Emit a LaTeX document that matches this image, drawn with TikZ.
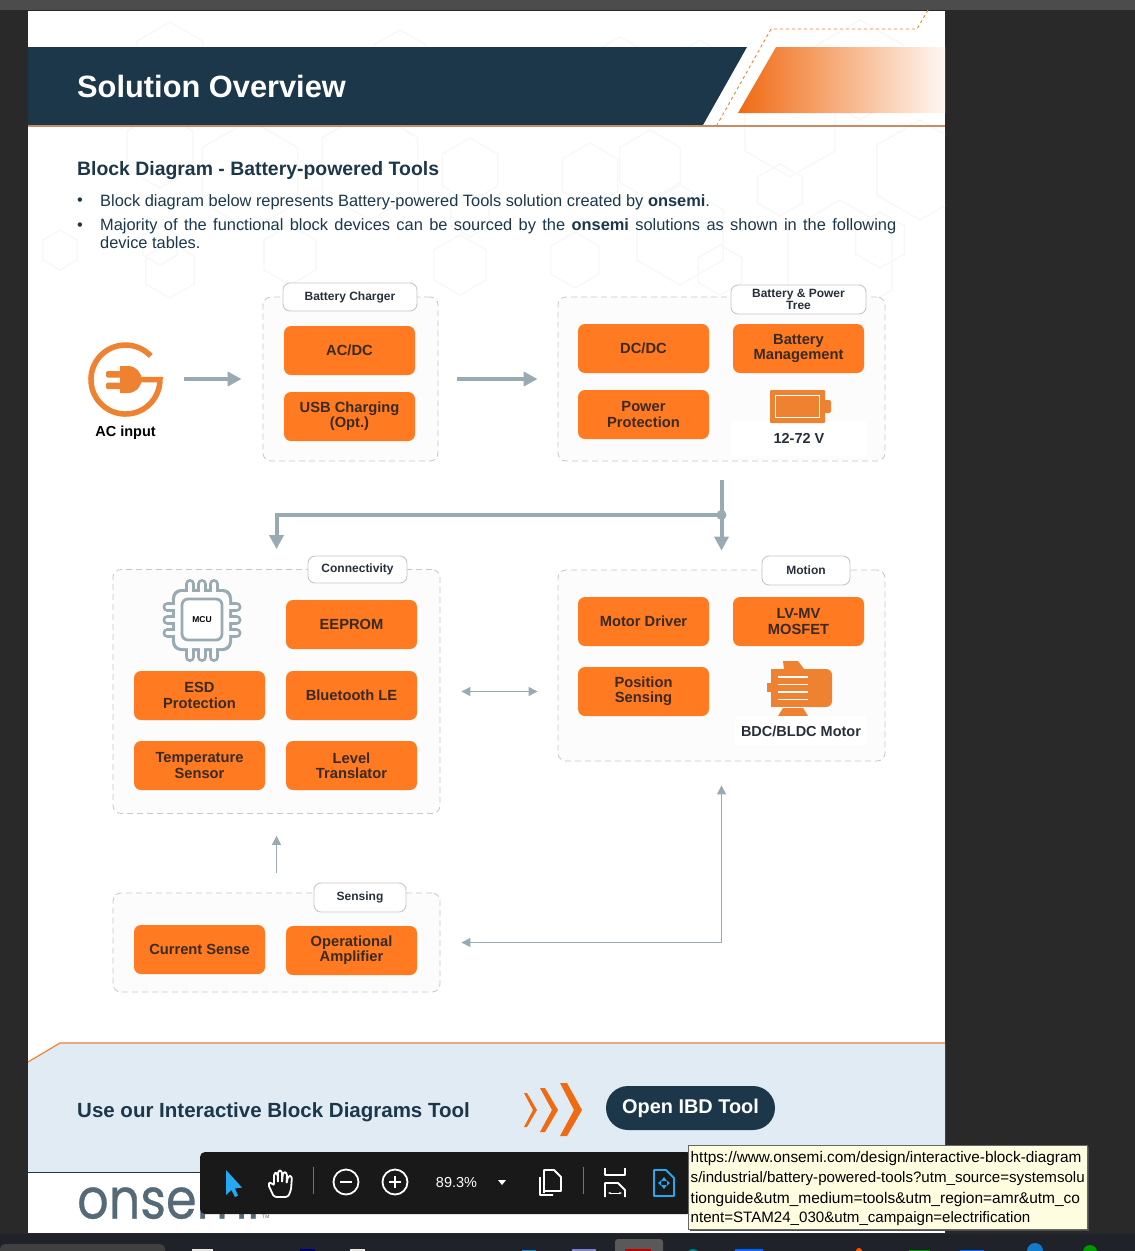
\documentclass[tikz,border=0pt]{standalone}
\usepackage{fontspec}
\setmainfont{Liberation Sans}
\newfontfamily\logofont[FakeBold=0.5,FakeStretch=0.88]{Poppins}
\usetikzlibrary{arrows.meta,calc}
\definecolor{navy}{HTML}{1C374A}
\definecolor{orng}{HTML}{FF7A21}
\definecolor{iconor}{HTML}{EE8231}
\definecolor{blktxt}{HTML}{3A2A1F}
\definecolor{slate}{HTML}{9AAAB3}
\definecolor{bandbg}{HTML}{E0EBF4}
\definecolor{hexc}{HTML}{F6F7F7}
\definecolor{tagtxt}{HTML}{27303A}
\definecolor{rulec}{HTML}{CB8A62}
\definecolor{chev}{HTML}{F06A12}
\definecolor{tbblue}{HTML}{25A9F0}
\definecolor{barc}{HTML}{20222A}
\newcommand{\fs}[2]{\fontsize{#1}{#2}\selectfont}
\newcommand{\up}[1]{\raisebox{-1.2pt}{#1}}
\tikzset{
 blockbox/.style={draw=none,fill=orng,rounded corners=7pt,minimum width=131pt,minimum height=49pt,inner sep=0pt,align=center,text=blktxt,font=\fs{14.7}{15.2}\bfseries},
 groupbox/.style={draw=black!22,dashed,dash pattern=on 6pt off 4pt,fill=black!1,rounded corners=8pt,inner sep=0pt,line width=.8pt},
 tagbox/.style={draw=black!22,fill=white,rounded corners=7pt,inner sep=0pt,align=center,text=tagtxt,line width=.9pt,font=\fs{12}{12}\bfseries},
 thickflow/.style={draw=slate,line width=4pt,-{Triangle[length=14pt,width=14pt]}},
 thinflow/.style={draw=slate,line width=1pt},
 hex/.style={draw=hexc,line width=1.2pt},
 tbicon/.style={draw=white,line width=1.8pt,line join=round},
 tipline/.style={anchor=west,inner sep=0pt,text=black},
 head/.style={anchor=west,inner sep=0pt,text=navy,font=\bfseries},
 bodytxt/.style={anchor=west,inner sep=0pt,text=navy,font=\fs{16.4}{18}},
}
\begin{document}
\begin{tikzpicture}[x=1pt,y=-1pt]
\useasboundingbox (0,0) rectangle (1135,1251);
% window
\fill[black!84] (0,0) rectangle (1135,1251);
\fill[black!70] (0,0) rectangle (1135,10);
\fill[white] (28,11) rectangle (945,1233);
% faint hexagon watermark
\begin{scope}
\clip (28,11) rectangle (945,1233);
\foreach \x/\y/\r in {170/60/38,400/60/30,620/65/28,700/70/30,860/70/50,160/150/38,250/175/55,370/165/55,590/175/32,470/170/32,650/165/35,790/125/52,920/170/50,840/260/60,680/235/50,170/270/28,290/255/30,460/265/30,575/260/28,720/270/25,160/245/20,60/250/20,880/240/28,470/215/22,780/190/26}{
 \draw[hex,shift={(\x,\y)}] (90:\r pt)--(30:\r pt)--(-30:\r pt)--(-90:\r pt)--(-150:\r pt)--(150:\r pt)--cycle;}
\end{scope}
% header
\fill[navy] (28,47)--(747,47)--(703,125)--(28,125)--cycle;
\shade[left color=chev,middle color=chev!60!white,right color=chev!5!white,shading angle=90] (776,47)--(945,47)--(945,113)--(738,113)--cycle;
\fill[rulec] (28,125) rectangle (945,127);
\draw[iconor,dashed,dash pattern=on 3pt off 3pt,line width=.9pt] (928,10)--(917,29)--(771,29)--(717,125);
\node[head,text=white,font=\fs{30.8}{31}\bfseries] (title) at (77,86.5) {Solution Overview};
\node[head,font=\fs{19.4}{20}\bfseries] (subtitle) at (77,171) {Block Diagram - Battery-powered Tools};
\node[bodytxt] (b1dot) at (77,202) {•};
\node[bodytxt] (b1) at (100,202) {Block diagram below represents Battery-powered Tools solution created by \textbf{onsemi}.};
\node[bodytxt] (b2dot) at (77,227) {•};
\node[bodytxt,anchor=north west,text width=796pt,align=justify] (b2) at (100,218.5) {Majority of the functional block devices can be sourced by the \textbf{onsemi} solutions as shown in the following\linebreak device tables.};
% groups
\node[groupbox,minimum width=175pt,minimum height=164pt] (charger) at (350.5,379) {};
\node[groupbox,minimum width=327pt,minimum height=164pt] (batt) at (721.5,379) {};
\node[groupbox,minimum width=327pt,minimum height=244pt] (conn) at (276.5,691.5) {};
\node[groupbox,minimum width=327pt,minimum height=191pt] (motion) at (721.5,665.5) {};
\node[groupbox,minimum width=327pt,minimum height=99pt] (sensing) at (276.5,942.5) {};
% tags
\node[tagbox,minimum width=134pt,minimum height=28pt] (tcharger) at (350,297) {\up{Battery Charger}};
\node[tagbox,minimum width=135pt,minimum height=29pt] (tbatt) at (798.5,299.5) {Battery \& Power\\Tree};
\node[tagbox,minimum width=99pt,minimum height=27pt] (tconn) at (357.5,569.5) {\up{Connectivity}};
\node[tagbox,minimum width=88pt,minimum height=29pt] (tmotion) at (806,570.5) {\up{Motion}};
\node[tagbox,minimum width=92pt,minimum height=29pt] (tsens) at (360,897.5) {\up{Sensing}};
% blocks
\node[blockbox] (acdc) at (349.5,350.5) {AC/DC};
\node[blockbox] (usb) at (349.5,416.5) {USB Charging\\(Opt.)};
\node[blockbox] (dcdc) at (643.5,348.5) {DC/DC};
\node[blockbox] (bm) at (798.5,348.5) {Battery\\Management};
\node[blockbox] (pp) at (643.5,414.5) {Power\\Protection};
\node[blockbox] (eeprom) at (351.5,624.5) {EEPROM};
\node[blockbox] (esd) at (199.5,695.5) {ESD\\Protection};
\node[blockbox] (ble) at (351.5,695.5) {Bluetooth LE};
\node[blockbox] (temp) at (199.5,765.5) {Temperature\\Sensor};
\node[blockbox] (level) at (351.5,765.5) {Level\\Translator};
\node[blockbox] (md) at (643.5,621.5) {Motor Driver};
\node[blockbox] (lv) at (798.5,621.5) {LV-MV\\MOSFET};
\node[blockbox] (pos) at (643.5,691.5) {Position\\Sensing};
\node[blockbox] (cs) at (199.5,949.5) {Current Sense};
\node[blockbox] (opamp) at (351.5,950.5) {Operational\\Amplifier};
% AC icon
\node[minimum size=75pt,inner sep=0pt] (acicon) at (126,379) {};
\draw[iconor,line width=5.5pt] (150.7,356) arc[start angle=43,end angle=360,radius=34.5pt] -- (141,379.5);
\fill[iconor] (120,366) -- (128,366) arc[start angle=90,end angle=-90,radius=13.5pt] -- (120,393) -- cycle;
\fill[iconor,rounded corners=1.5pt] (106,371) rectangle (121,377.5);
\fill[iconor,rounded corners=1.5pt] (106,382.5) rectangle (121,389);
\node[inner sep=0pt,text=black,font=\fs{14.5}{15}\bfseries] (aclabel) at (125.5,433) {AC input};
% battery icon
\fill[white] (731,421) rectangle (866,456);
\fill[iconor,rounded corners=1pt] (770,390) rectangle (825,423);
\fill[iconor,rounded corners=2pt] (823,400) rectangle (831,413);
\draw[white,line width=1.8pt] (775.5,395.5) rectangle (819.5,417.5);
\node[inner sep=0pt,text=tagtxt,font=\fs{14.5}{15}\bfseries] (vlabel) at (799,438) {12-72 V};
% MCU icon: outline of body and pins as one contour
\foreach \a in {190,202,214}{\draw[slate,line width=10pt,line cap=round] (\a,584)--(\a,657);}
\foreach \b in {607,620,633}{\draw[slate,line width=10pt,line cap=round] (167.5,\b)--(236.5,\b);}
\fill[slate,rounded corners=9pt] (172,589) rectangle (232,651);
\foreach \a in {190,202,214}{\draw[black!1,line width=4.4pt,line cap=round] (\a,584)--(\a,657);}
\foreach \b in {607,620,633}{\draw[black!1,line width=4.4pt,line cap=round] (167.5,\b)--(236.5,\b);}
\fill[black!1,rounded corners=7pt] (175,592) rectangle (229,648);
\draw[slate,fill=white,line width=2.8pt,rounded corners=6pt] (182,599) rectangle (222,640);
\node[inner sep=0pt,text=black,font=\fs{8.5}{9}\bfseries] (mcu) at (202,620) {MCU};
% motor icon
\fill[iconor] (771,669) rectangle (810,707);
\fill[iconor,rounded corners=6pt] (800,669) rectangle (832,707);
\fill[iconor] (767,683) rectangle (772,692);
\fill[iconor] (783,661)--(798,661)--(804,669)--(784,669)--cycle;
\fill[iconor] (778,716)--(783,708)--(803,708)--(808,716)--cycle;
\foreach \yy in {677,684.5,692,699.5}{\draw[white,line width=1.6pt] (778,\yy)--(808,\yy);}
\fill[white] (735,716) rectangle (866,745);
\node[inner sep=0pt,text=tagtxt,font=\fs{14.5}{15}\bfseries] (mlabel) at (801,731) {BDC/BLDC Motor};
% connectors
\coordinate (junc) at (721.5,515);
\draw[thickflow,shorten <=20pt,shorten >=21pt] (acicon.east) -- (charger.west);
\draw[thickflow,shorten <=19pt,shorten >=20pt] (charger.east) -- (batt.west);
\draw[thickflow,shorten <=19pt,shorten >=19pt] (batt.south) -- (motion.north);
\draw[thickflow,shorten >=20pt] (junc) -| (conn.north);
\fill[slate] (junc) circle[radius=5pt];
\draw[thinflow,{Triangle[length=9pt,width=9pt]}-{Triangle[length=9pt,width=9pt]},shorten <=21pt,shorten >=20pt] (conn.east) -- (conn.east -| motion.west);
\draw[thinflow,{Triangle[length=9pt,width=9pt]}-{Triangle[length=9pt,width=9pt]},shorten <=24pt,shorten >=21pt] (motion.south) |- (sensing.east);
\draw[thinflow,-{Triangle[length=9pt,width=9pt]},shorten <=20pt,shorten >=22pt] (sensing.north) -- (conn.south);
% footer band
\fill[bandbg] (28,1062)--(60,1043)--(945,1043)--(945,1172)--(28,1172)--cycle;
\draw[iconor,line width=1.2pt] (28,1062)--(60,1043)--(945,1043);
\draw[navy,line width=1pt] (28,1172.5)--(210,1172.5);
\node[head,font=\fs{20.5}{21}\bfseries] (cta) at (77,1112) {Use our Interactive Block Diagrams Tool};
\fill[chev] (524,1093)--(527,1093)--(537,1110)--(527,1127)--(524,1127)--(533,1110)--cycle;
\fill[chev] (540,1088)--(545,1088)--(558,1110)--(545,1132)--(540,1132)--(552,1110)--cycle;
\fill[chev] (560,1083)--(567,1083)--(582,1110)--(567,1136)--(560,1136)--(574,1110)--cycle;
\node[draw=none,fill=navy,rounded corners=22pt,minimum width=169pt,minimum height=44pt,inner sep=0pt,text=white,font=\fs{19.9}{20}\bfseries] (ibd) at (690.5,1108) {Open IBD Tool};
% logo
\node[anchor=base west,inner sep=0pt,text=navy!75!white,font=\fs{56}{56}\logofont] (logo) at (77,1218.5) {onsemi};
\node[anchor=base west,inner sep=0pt,text=navy!75!white,font=\fs{5}{5}] (logotm) at (262,1218) {TM};
% toolbar
\fill[black!90,rounded corners=5pt] (200,1152) rectangle (692,1214);
\fill[tbblue] (226,1170)--(226,1195)--(231.5,1190)--(235,1197)--(238,1195.5)--(235,1188.5)--(242,1187.5)--cycle;
\draw[tbicon,rounded corners=2.5pt] (274,1197)--(268,1184)--(271,1182)--(274,1186)--(274,1173)--(277.5,1173)--(278,1183)--(278,1170.5)--(282,1170.5)--(282,1183)--(283,1172)--(287,1172.5)--(286.5,1184)--(288,1176)--(292,1176)--(291,1190)--(288,1197)--cycle;
\draw[white!45!black,line width=.8pt] (313,1167)--(313,1194);
\draw[tbicon] (346,1182) circle[radius=12.5pt];
\draw[tbicon] (340,1182)--(352,1182);
\draw[tbicon] (395,1182) circle[radius=12.5pt];
\draw[tbicon] (389,1182)--(401,1182) (395,1176)--(395,1188);
\node[inner sep=0pt,text=white,font=\fs{14.5}{15}] (zoomv) at (456.5,1182) {89.3\%};
\fill[white] (498,1180)--(506,1180)--(502,1185)--cycle;
\draw[tbicon] (540,1177)--(540,1195)--(553,1195) (544,1193)--(544,1170)--(554,1170)--(561,1177)--(561,1191)--(544,1191);
\draw[white!45!black,line width=.8pt] (583,1167)--(583,1194);
\draw[tbicon] (605,1168)--(605,1175)--(625,1175)--(625,1168) (605,1197)--(605,1183)--(618,1183)--(625,1190)--(625,1197);
\draw[white,line width=1pt,{Stealth[length=3pt]}-{Stealth[length=3pt]}] (608,1193)--(622,1193);
\draw[tbblue,line width=1.8pt,line join=round] (654,1170)--(666,1170)--(674,1178)--(674,1196)--(654,1196)--cycle;
\fill[tbblue] (664,1177)--(667,1181)--(661,1181)--cycle (664,1189)--(667,1185)--(661,1185)--cycle (658,1183)--(661,1180.5)--(661,1185.5)--cycle (670,1183)--(667,1180.5)--(667,1185.5)--cycle;
% tooltip
\fill[black!70] (690,1147) rectangle (1089,1231);
\draw[black!60,fill=yellow!12,line width=.5pt] (688,1145) rectangle (1087,1229);
\node[tipline,font=\fs{15.35}{15}] (tip1) at (690.5,1159) {https://www.onsemi.com/design/interactive-block-diagram};
\node[tipline,font=\fs{15.1}{15}] (tip2) at (690.5,1179) {s/industrial/battery-powered-tools?utm\_source=systemsolu};
\node[tipline,font=\fs{15.5}{15}] (tip3) at (690.5,1199) {tionguide\&utm\_medium=tools\&utm\_region=amr\&utm\_co};
\node[tipline,font=\fs{15.1}{15}] (tip4) at (690.5,1219) {ntent=STAM24\_030\&utm\_campaign=electrification};
% taskbar
\fill[barc] (0,1234) rectangle (1135,1251);
\fill[black!75,rounded corners=5pt] (0,1244) rectangle (165,1256);
\fill[black!10] (192,1249) rectangle (213,1251);
\fill[blue!40!black] (300,1249) rectangle (315,1251);
\fill[black!10] (350,1249) rectangle (365,1251);
\fill[cyan!70!blue] (522,1250) rectangle (536,1251);
\fill[black!45!blue!50] (572,1249) rectangle (596,1251);
\fill[black!65,rounded corners=3pt] (615,1239) rectangle (663,1256);
\fill[red!75!black] (625,1249) rectangle (651,1251);
\fill[teal] (693,1256) circle[radius=7pt];
\fill[blue!60!cyan] (735,1249) rectangle (763,1251);
\fill[orange!70!red] (859,1251) circle[radius=3pt];
\fill[green!55!black] (909,1250) rectangle (930,1251);
\fill[blue!60!cyan] (960,1250) rectangle (984,1251);
\fill[cyan!60!blue] (1035,1251) circle[radius=8pt];
\fill[green!60!black] (1090,1252) circle[radius=7pt];
\end{tikzpicture}
\end{document}
